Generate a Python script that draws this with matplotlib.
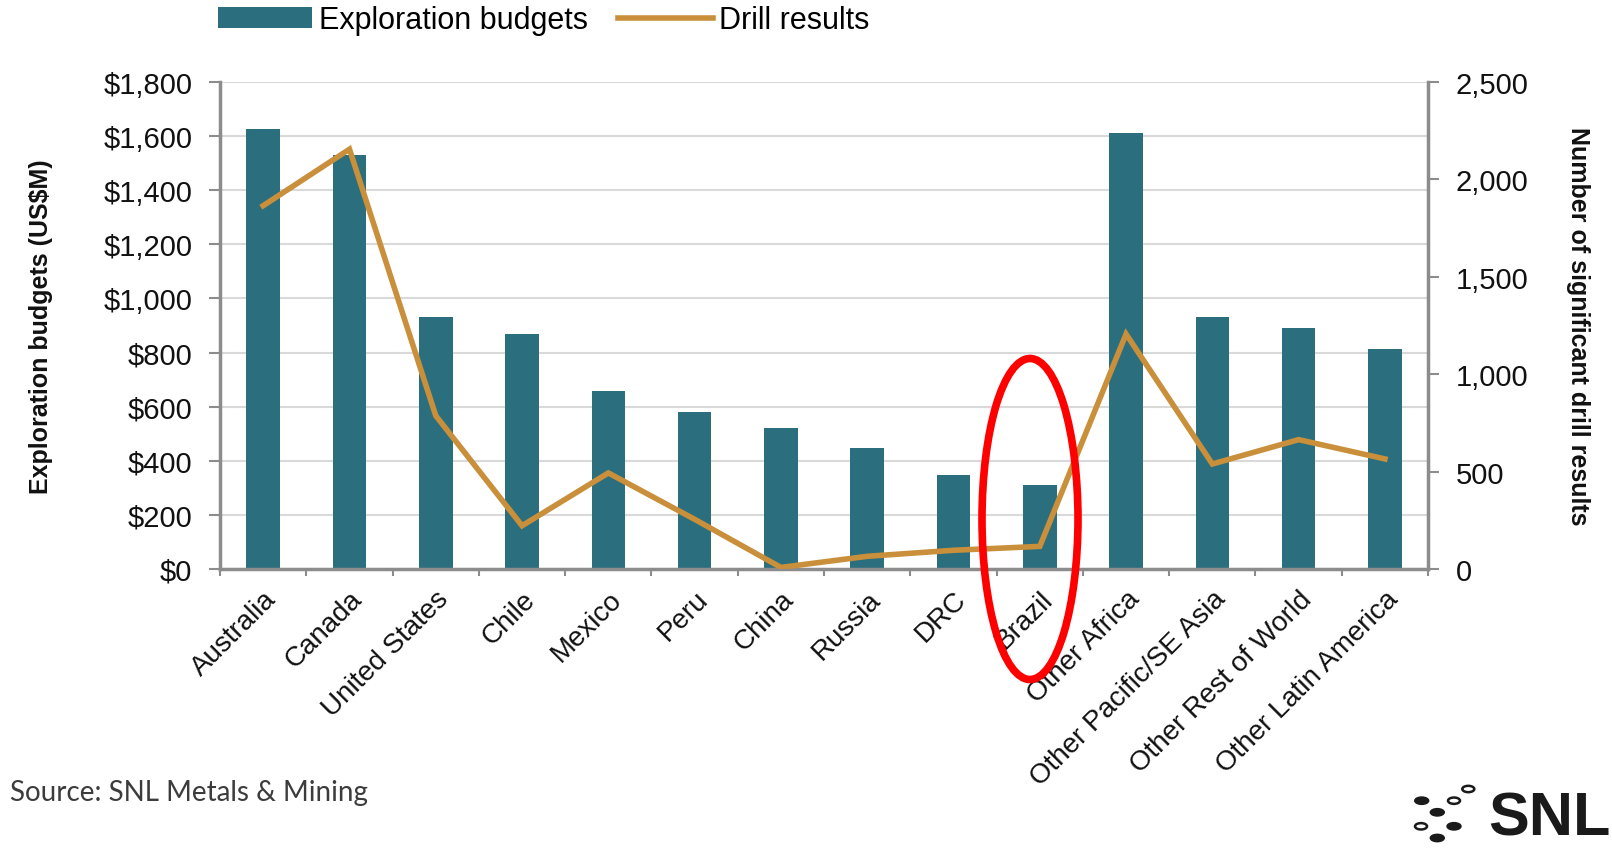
import matplotlib.pyplot as plt
from matplotlib.patches import Ellipse, Circle
from matplotlib.ticker import FuncFormatter, FixedLocator
import numpy as np

plt.rcParams['font.family'] = ['Liberation Sans', 'DejaVu Sans']

# Data
regions = ["Australia", "Canada", "United States", "Chile", "Mexico", "Peru",
           "China", "Russia", "DRC", "Brazil", "Other Africa",
           "Other Pacific/SE Asia", "Other Rest of World", "Other Latin America"]
budgets = [1625, 1530, 930, 868, 658, 579, 520, 447, 347, 312, 1610, 933, 890, 814]
drill_results = [1865, 2155, 787, 222, 493, 255, 8, 65, 96, 116, 1206, 539, 664, 565]

bar_color = '#2b6f7e'
line_color = '#c98f3a'
axis_gray = '#8c8c8c'

fig = plt.figure(figsize=(16.12, 8.53), dpi=100)
ax = fig.add_axes([0.1365, 0.3318, 0.7494, 0.5709])
x = np.arange(len(regions))

bars = ax.bar(x, budgets, width=0.39, color=bar_color, zorder=2,
              label='Exploration budgets')
ax.set_xlim(-0.5, len(regions) - 0.5)
ax.set_ylim(0, 1800)
ax.set_yticks(np.arange(0, 1801, 200))
ax.yaxis.set_major_formatter(FuncFormatter(lambda v, p: f'${v:,.0f}'))
ax.grid(axis='y', color='#d9d9d9', linewidth=1.5, zorder=0)
ax.set_axisbelow(True)

ax.set_xticks(x)
ax.set_xticklabels(regions, rotation=45, ha='right', rotation_mode='anchor',
                   fontsize=20, color='#111111')
ax.xaxis.set_minor_locator(FixedLocator(np.arange(-0.5, len(regions), 1)))
ax.tick_params(axis='x', which='major', length=0, pad=12)
ax.tick_params(axis='x', which='minor', length=5, width=1.5, color=axis_gray)
ax.tick_params(axis='y', length=8, width=1.5, color=axis_gray, pad=12,
               labelsize=21, labelcolor='#111111')

for side in ['top', 'right']:
    ax.spines[side].set_visible(False)
for side in ['left', 'bottom']:
    ax.spines[side].set_color(axis_gray)
    ax.spines[side].set_linewidth(2.5)

ax.set_ylabel('Exploration budgets (US$M)', fontsize=18, fontweight='bold',
              color='#111111', labelpad=36)

ax2 = ax.twinx()
line, = ax2.plot(x, drill_results, color=line_color, linewidth=4,
                 solid_joinstyle='miter', label='Drill results', zorder=3)
ax2.set_ylim(0, 2500)
ax2.set_yticks(np.arange(0, 2501, 500))
ax2.yaxis.set_major_formatter(FuncFormatter(lambda v, p: f'{v:,.0f}'))
ax2.tick_params(axis='y', length=8, width=1.5, color=axis_gray, pad=12,
                labelsize=21, labelcolor='#111111')
for side in ['top', 'left', 'bottom']:
    ax2.spines[side].set_visible(False)
ax2.spines['right'].set_color(axis_gray)
ax2.spines['right'].set_linewidth(2.5)
ax2.set_ylabel('Number of significant drill results', fontsize=18,
               fontweight='bold', rotation=270, color='#111111', labelpad=44)

fig.legend([bars, line], ['Exploration budgets', 'Drill results'],
           loc='center left', bbox_to_anchor=(0.118, 0.975), ncol=2,
           frameon=False, fontsize=22, handlelength=3.1, handleheight=0.7,
           columnspacing=1.0, handletextpad=0.2)

# red highlight around Brazil
fig.add_artist(Ellipse((1030 / 1612, 1 - 520 / 853), 96 / 1612, 321 / 853,
                       transform=fig.transFigure, fill=False,
                       edgecolor='red', linewidth=5.5))

fig.text(0.006, 1 - 793 / 853, 'Source: SNL Metals & Mining', fontsize=20,
         family=['Lato', 'DejaVu Sans'], color='#3c3c3c', va='center',
         ha='left')

# SNL logo
filled = [(1421.7, 801.7), (1437.3, 813.3), (1454, 827.3), (1437.3, 839)]
hollow = [(1454, 801.7), (1468.3, 790), (1421, 827.3)]
for px, py in filled:
    fig.add_artist(Circle((px / 1612, 1 - py / 853), 7 / 1612,
                          transform=fig.transFigure, color='#1a1a1a'))
for px, py in hollow:
    fig.add_artist(Circle((px / 1612, 1 - py / 853), 6 / 1612,
                          transform=fig.transFigure, fill=False,
                          edgecolor='#1a1a1a', linewidth=1.8))
fig.text(0.999, 1 - 820 / 853, 'SNL', fontsize=44, fontweight='bold',
         color='#1a1a1a', ha='right', va='center')

fig.savefig('out.png', dpi=100)
